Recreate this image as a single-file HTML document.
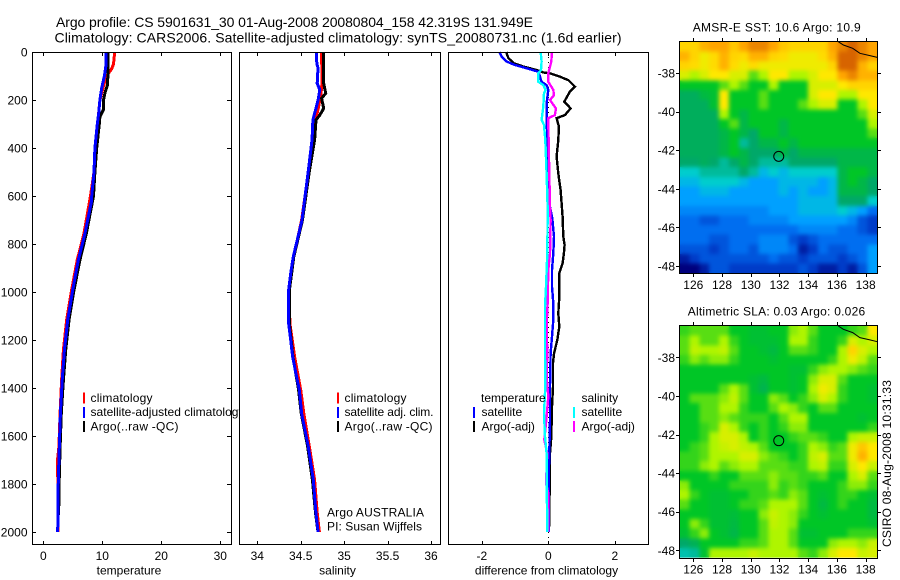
<!DOCTYPE html>
<html>
<head>
<meta charset="utf-8">
<title>Argo profile</title>
<style>
html,body{margin:0;padding:0;background:#fff;}
svg{display:block;}
text{font-family:"Liberation Sans",sans-serif;font-size:12px;fill:#000;}
.t14{font-size:14px;}
.t13{font-size:13px;}
</style>
</head>
<body>
<svg id="chart" width="900" height="580" viewBox="0 0 900 580" xmlns="http://www.w3.org/2000/svg">
<defs>
<filter id="soften" filterUnits="userSpaceOnUse" x="660" y="30" width="230" height="540" color-interpolation-filters="sRGB">
<feGaussianBlur in="SourceGraphic" stdDeviation="2" result="blur"/>
<feMerge><feMergeNode in="SourceGraphic"/><feMergeNode in="blur"/></feMerge>
</filter>
</defs>
<rect x="0" y="0" width="900" height="580" fill="#fff"/>
<text class="t14" x="56" y="27" textLength="477" lengthAdjust="spacing">Argo profile: CS 5901631_30 01-Aug-2008 20080804_158 42.319S 131.949E</text>
<text class="t14" x="54.5" y="42.5" textLength="567" lengthAdjust="spacing">Climatology: CARS2006. Satellite-adjusted climatology: synTS_20080731.nc (1.6d earlier)</text>
<g id="p1"></g>
<g id="p2"></g>
<g id="p3"></g>
<g id="m1"></g>
<g id="m2"></g>
<text x="0" y="0" transform="translate(891 547) rotate(-90)" textLength="167" lengthAdjust="spacing">CSIRO 08-Aug-2008 10:31:33</text>
</svg>
<script>
// ---- Profile data: depth (dbar) and value pairs ----
const depthTicks = [0,200,400,600,800,1000,1200,1400,1600,1800,2000];
const tempTicks = [0,10,20,30];
const salTicks = [34,34.5,35,35.5,36];
const salTickLabels = ['34','34.5','35','35.5','36'];
const diffTicks = [-2,0,2];

const tempClimDepth = [0,50,70,90,110,150,200,300,400,500,600,755,867,992,1117,1242,1367,1505,1645,1700,1783,2000];
const tempClimValue = [12.1,11.9,11.6,11.0,10.6,10.1,9.6,9.2,8.9,8.6,8.0,6.9,5.75,4.8,3.95,3.4,3.1,2.85,2.65,2.4,2.45,2.45];
const tempSatDepth = [0,60,100,150,200,250,300,400,500,600,617,755,867,992,1117,1242,1367,1505,1645,1783,2000];
const tempSatValue = [10.6,10.6,10.35,9.9,9.6,9.4,9.15,8.75,8.6,8.2,8.2,7.07,5.93,4.98,4.13,3.57,3.2,2.9,2.72,2.55,2.44];
const tempArgoDepth = [0,100,140,170,200,240,270,300,400,500,600,755,867,992,1117,1242,1367,1505,1645,1783,1930];
const tempArgoValue = [10.95,10.95,10.85,10.45,10.2,10.2,9.6,9.5,9.05,8.75,8.5,7.3,6.2,5.2,4.35,3.8,3.4,3.05,2.85,2.7,2.6];

const salClimDepth = [0,130,172,228,276,367,506,700,853,992,1131,1269,1408,1505,1645,1783,1920,2000];
const salClimValue = [34.74,34.745,34.733,34.706,34.676,34.653,34.587,34.51,34.42,34.365,34.375,34.43,34.5,34.535,34.6,34.66,34.69,34.715];
const salSatDepth = [0,47,68,89,131,158,200,242,283,367,506,700,853,922,992,1061,1131,1200,1269,1339,1408,1505,1645,1783,1920,2000];
const salSatValue = [34.68,34.685,34.7,34.695,34.69,34.72,34.7,34.67,34.64,34.63,34.584,34.515,34.415,34.385,34.36,34.357,34.36,34.385,34.407,34.445,34.484,34.51,34.587,34.645,34.675,34.7];
const salArgoDepth = [0,131,172,193,235,263,283,367,506,700,853,992,1131,1269,1408,1505,1645,1783,1920,1990];
const salArgoValue = [34.765,34.765,34.788,34.74,34.765,34.72,34.676,34.66,34.595,34.52,34.42,34.37,34.37,34.41,34.475,34.505,34.58,34.635,34.67,34.695];

const diffTempSatDepth = [0,19,40,54,68,82,103,124,138,158,214,269,367,506,644,693,769,839,908,978,1047,1117,1186,1256,1394,1533,1672,1811,1950,2000];
const diffTempSatValue = [-1.47,-1.4,-1.25,-1.0,-0.65,-0.3,-0.25,-0.2,-0.05,0,-0.05,-0.05,-0.03,-0.02,0.05,0.12,0.17,0.15,0.11,0.11,0.15,0.15,0.11,0.07,0.05,0.05,0.03,0.01,0.02,0.01];
const diffTempArgoDepth = [0,26,47,61,75,85,89,103,117,144,165,207,235,263,276,311,367,436,506,575,686,769,804,839,880,922,1019,1089,1144,1200,1256,1297,1394,1478,1603,1672,1950,1977];
const diffTempArgoValue = [-1.27,-1.2,-1.03,-0.75,-0.35,-0.15,0.05,0.35,0.6,0.8,0.65,0.48,0.67,0.5,0.25,0.32,0.3,0.25,0.3,0.37,0.43,0.45,0.49,0.47,0.43,0.33,0.33,0.3,0.33,0.27,0.17,0.14,0.14,0.11,0.09,0.05,0.03,0.03];
const diffSalSatDepth = [0,40,75,89,124,138,158,172,228,283,304,367,506,644,700,839,978,1061,1256,1394,1505,1603,1672,1811,1950,2000];
const diffSalSatValue = [-0.23,-0.2,-0.22,-0.3,-0.3,-0.15,-0.08,-0.13,-0.15,-0.2,-0.13,-0.09,-0.05,-0.02,-0.02,-0.03,-0.07,-0.1,-0.1,-0.09,-0.13,-0.1,-0.05,-0.05,-0.03,-0.03];
const diffSalArgoDepth = [0,40,89,124,158,180,200,235,263,276,367,506,644,700,839,908,1047,1144,1256,1353,1436,1547,1616,1672,1797,1838,1977,2000];
const diffSalArgoValue = [0.11,0.09,0,0,0.15,0.17,0.05,0.23,0.2,0,0.01,0.03,0.05,0.07,0.05,0,-0.02,-0.05,-0.03,-0.05,0,-0.07,-0.12,-0.03,-0.07,0,0,0];

// ---- Map data: colour-level grid values (20 columns x 24 rows, north to south) ----
const mapLonTicks = [126,128,130,132,134,136,138];
const mapLatTicks = [-38,-40,-42,-44,-46,-48];
const coastLon = [136.1,136.45,137.1,137.6,138.3,138.81];
const coastLat = [-36.38,-36.55,-36.72,-36.98,-37.1,-37.19];
const argoLon = [131.95];
const argoLat = [-42.32];

const sstRows = [
[8.3,8.3,8.8,9,9,8.5,9,9.5,9.5,9,8.5,8.3,8.3,8.3,8.3,9,9.5,10,9.5,9],
[8.8,8.3,7.8,8.2,8.8,8.3,8.2,8.8,8.8,8.3,8.2,7.8,7.8,7.8,8.2,8.8,10,10,9.5,9],
[8.3,8.2,7.8,8.2,8.8,8.2,7.8,8.2,7.8,7.8,7.8,7.8,7.8,7.8,7.8,8.3,10,10,8.8,8.3],
[7.5,7,7.5,8,8,7.5,7.5,6.5,7,8,8,7,7,7.5,8,8,9,9.5,8.8,8.8],
[6,6,6,6,6.5,7,6.5,6,6,7,6,6,6,7.5,7.5,7.5,8,8.3,8.3,8.3],
[5.2,5.2,5.6,5.8,8,6,6,6,6.5,6,6,6,6,7.5,8,8,7,7,8,8],
[5.2,5.2,5.2,5.8,8,6,6,6,6.5,6,6,6,6.5,7,7.5,7.5,6,6,7,8],
[5.2,5.2,5.2,5.2,7,6,5.5,6,6,6,6,6,6,6,6,6,6,6,6.5,7.5],
[5.2,5.2,5.2,5.2,6,6.5,5.5,6,6,6,5.5,6,6,6,6,6,6,6,6,7],
[5.2,5.2,5.2,5.2,5.5,6,5.5,5,6,6,5.5,6,6,6,6,6,6,6,6,6.5],
[5.2,5.2,5.2,5.2,5.5,6,4.5,5,5.5,5.5,6,5.5,6,6,6,6,6,6,6,6],
[5.2,5.2,5.2,5.2,5.5,6,5.5,5,5,5,5.5,5,5.5,5.5,5.5,5.5,5.5,5.5,5.5,5.5],
[5,5,5.2,5,4.5,5,5.5,5,4.5,4.5,4.5,5,5,5,5,5,5.5,5.5,5.5,5.5],
[4,4,4.5,4.5,4.5,4.5,5,4.5,3.5,4,3.5,4,4,4,4,4,5.5,6,6,5.5],
[3.5,3.5,4,4,4,4,3.5,3,3,3,3.5,3.5,3.5,3.5,3,3.5,5.5,6,5.5,5],
[3,3,3.5,3.5,3.5,3,3,3,3,3,3.5,3,3.5,3,3,3.5,5.5,5.5,5.5,5],
[3,3,3,3,3,3,3,3,3,3,3,3,3.5,3.5,3.5,3.5,5,5,5,4],
[2.5,2.5,2.5,2.5,2.5,2.5,2.5,2.5,2.5,3,3,3,3.5,3.5,3.5,3.5,4,3.5,3,2],
[2,2,1.5,1.5,2,2,2,2.5,2.5,2.5,2.5,3,3,3,3,3,3,2.5,1.5,1],
[2,2,2,2,2,2,2,2,2,2,2,2,2.5,2.5,2.5,2.5,2,2,1.5,1],
[2,2,2,1.5,1.5,2,2,2,2.5,2.5,2.5,1.5,1,1.5,2,2,2,2,2,2],
[1.5,1.5,1.5,1,1.5,2,2,1.5,2.5,2.5,2.5,2,0.5,1,2,1.5,1.5,2,2,3],
[0.5,1,1.5,1.5,1.5,1.5,1.5,1.5,1.5,2,1.5,1.5,1,1.5,1.5,1.5,1,1.5,2,3],
[0,0,0.5,1.5,1.5,1,1,1,1,1,1,1,1.5,1,0.5,0.5,1,0.5,1.5,3]
];
const slaRows = [
[6.3,6.5,6.5,6.5,6.5,6,6,5.8,5.8,6,6,6.8,7,6.5,6,6,6,6.3,6.5,8],
[6.5,7,6.5,6.5,7,6.3,6,5.8,5.8,5.8,6,7,7,6.3,6,6,6.3,7.5,7,7.5],
[6.5,7.2,7,7,7.2,6.5,6,6,5.8,5.6,6,6.5,6.5,6.3,6,6,7,8.3,7.5,7],
[6.3,6.8,6.5,6.8,6.8,6.3,6,6,6,5.8,6,6,6,6,6,6.3,7,7.8,7.2,6.5],
[6,6,6,6,6,6,6,6,6,6,6,5.8,5.8,6.3,6.8,7,7,6.8,6.5,6.3],
[6,6,6,6,6,6,6,5.8,5.6,6,6,5.8,6,6.8,7.5,7.5,6.5,6,6,6],
[6,6,6,6,6.5,7,6.5,5.8,5.4,6,6,5.8,6,7,7.8,7.5,6.3,6,6,5.8],
[6,6.5,6.5,6.5,6.8,7.2,6.5,6,6,6.8,6.5,6,6.3,6.8,7.5,7,6.3,6,6,5.8],
[6,6,6.5,6.5,7,7,6.3,6,6,6.5,7,6.8,6.3,6,6.5,6.5,6,6,6,6],
[6,6,6.5,6.5,6.8,6.5,6.3,6.3,6.3,6,6.5,7,7,6,6,6,6,6,5.8,6],
[6,6,6.3,6.5,7.5,7,6.3,6,6.3,6,6.3,6.8,6.8,6,6,6,6,6,6,6.3],
[6,6,6.3,7,7.5,7.5,7,6,6.3,6,6,6.3,6.5,6.5,6.3,6,6,7,7.3,7.3],
[6,6.3,6.5,7,7.3,7.5,7.2,7,6.5,6,6,6,6.3,7,6.8,6.3,6.5,7.8,8.5,8],
[6.3,6.3,6.5,7,7,7,7.5,7.5,6.8,6.5,6.3,6,6.3,7.2,7.5,6.5,6.5,7.8,8.8,8],
[6.3,6.3,6.8,7,6.5,6.8,7,7,6.5,6.5,6.5,6.3,6.3,7,7.2,6.3,6.3,7.5,8,7.3],
[6,6,6,6.3,6,6,6.5,6.5,6.5,6.8,6.5,6.5,6.3,6.3,6.5,6,6,7,7.5,6.5],
[6.8,6,6,6,6,6.3,6.3,6.3,6.3,6.8,6.3,6.5,6.3,6,6,6,6.3,6.8,6.8,6.3],
[7,6.3,6,5.8,5.8,6,6,6.3,6.3,6.5,6.3,6.8,6.5,6,5.8,6,6.3,6.3,6,5.8],
[6.5,6,6,5.8,5.8,6,6.3,6.3,6.5,7,7,7,6.5,6,5.6,6,6.3,6,6,5.6],
[6,6,6,5.8,5.8,5.7,6,6,6.8,7.3,7,6.8,6.3,6,5.8,6,6,6,6,5.6],
[6,6.8,6.3,5.8,5.8,5.6,6,6,6.5,7.2,7,6.8,6,6,6,6,6,6,6,5.8],
[5.8,6.3,6.8,6,5.8,5.5,6,6,6.5,7,7,6.5,5.8,5.8,6,6,6,6.3,6.3,6.3],
[5,5.3,6,6,6,6,6.3,6.3,6.5,7,7,6.5,6,6,6,6.8,7,7,6.8,7.3],
[4.3,4.5,5.8,7,7,7,7,7.3,7,7,7,7,6.5,6.3,6.8,7.5,8,8,7.3,7.5]
];

// ---- Axis functions ----
const SVGNS = 'http://www.w3.org/2000/svg';
function depthY(d){ return 52 + d * 0.24; }
function tempX(v){ return 43.3 + v * 5.9; }
function salX(v){ return 257.3 + (v - 34) * 86.85; }
function diffX(v){ return 548.3 + v * 33.25; }
function lonX(lon){ return 693.3 + (lon - 126) * 14.36; }
function latY(lat, y38){ return y38 + (-38 - lat) * 19.3; }
const LON_MIN = 125.04, LON_MAX = 138.81, LAT_MAX = -36.38, LAT_MIN = -48.38;

function mk(parent, tag, attrs, txt){
  const el = document.createElementNS(SVGNS, tag);
  for (const k in attrs) el.setAttribute(k, attrs[k]);
  if (txt !== undefined) el.textContent = txt;
  parent.appendChild(el);
  return el;
}
function series(parent, depths, values, xFn, color, width){
  const pts = depths.map((d, i) => xFn(values[i]).toFixed(1) + ',' + depthY(d).toFixed(1)).join(' ');
  return mk(parent, 'polyline', {points: pts, fill: 'none', stroke: color, 'stroke-width': width, 'stroke-linejoin': 'miter', 'shape-rendering': 'crispEdges'});
}
function legendBar(parent, x, y, color){
  return mk(parent, 'rect', {x: x, y: y, width: 2, height: 11, fill: color});
}
function frame(parent, x0, x1, y0, y1){
  return mk(parent, 'rect', {x: x0 + 0.5, y: y0 + 0.5, width: x1 - x0 - 1, height: y1 - y0 - 1, fill: 'none', stroke: '#000', 'stroke-width': 1, 'shape-rendering': 'crispEdges'});
}
function tickLine(parent, x1, y1, x2, y2){
  return mk(parent, 'line', {x1: x1, y1: y1, x2: x2, y2: y2, stroke: '#000', 'stroke-width': 1, 'shape-rendering': 'crispEdges'});
}

const P_TOP = 52, P_BOT = 545;

// ---- Panel 1: temperature ----
(function(){
  const g = document.getElementById('p1');
  let el;
  el = mk(g, 'rect', {x: 32, y: P_TOP, width: 200, height: P_BOT - P_TOP, fill: '#fff'});
  
  
  el = series(g, tempClimDepth, tempClimValue, tempX, '#ff0000', 3);
  
  
  el = series(g, tempArgoDepth, tempArgoValue, tempX, '#000000', 3);
  
  
  el = series(g, tempSatDepth, tempSatValue, tempX, '#0000ff', 3);
  
  
  depthTicks.forEach(function(d){
    const y = Math.round(depthY(d)) + 0.5;
    let t = tickLine(g, 32, y, 36, y);
    
    
    t = tickLine(g, 227, y, 231, y);
    
    
    t = mk(g, 'text', {x: 27.5, y: depthY(d) + 4.5, 'text-anchor': 'end'}, String(d));
    
    
  });
  tempTicks.forEach(function(v){
    const x = Math.round(tempX(v)) + 0.5;
    let t = tickLine(g, x, P_TOP, x, P_TOP + 4);
    
    
    t = tickLine(g, x, P_BOT - 4, x, P_BOT);
    
    
    t = mk(g, 'text', {x: tempX(v), y: 560, 'text-anchor': 'middle'}, String(v));
    
    
  });
  el = frame(g, 32, 232, P_TOP, P_BOT);
  
  
  el = mk(g, 'text', {x: 129, y: 574.5, 'text-anchor': 'middle'}, 'temperature');
  
  
  el = legendBar(g, 83, 392.5, '#ff0000');
  
  
  el = legendBar(g, 83, 407, '#0000ff');
  
  
  el = legendBar(g, 83, 421, '#000000');
  
  
  el = mk(g, 'text', {x: 90.5, y: 402, textLength: 62, lengthAdjust: 'spacing'}, 'climatology');
  
  
  el = mk(g, 'text', {x: 90.5, y: 416, textLength: 154, lengthAdjust: 'spacing'}, 'satellite-adjusted climatology');
  
  
  el = mk(g, 'text', {x: 90.5, y: 430.5, textLength: 88, lengthAdjust: 'spacing'}, 'Argo(..raw -QC)');
  
  
})();

// ---- Panel 2: salinity ----
(function(){
  const g = document.getElementById('p2');
  let el;
  el = mk(g, 'rect', {x: 239, y: P_TOP, width: 202, height: P_BOT - P_TOP, fill: '#fff'});
  
  
  el = series(g, salClimDepth, salClimValue, salX, '#ff0000', 3);
  
  
  el = series(g, salArgoDepth, salArgoValue, salX, '#000000', 3);
  
  
  el = series(g, salSatDepth, salSatValue, salX, '#0000ff', 3);
  
  
  salTicks.forEach(function(v, i){
    const x = Math.round(salX(v)) + 0.5;
    let t = tickLine(g, x, P_TOP, x, P_TOP + 4);
    
    
    t = tickLine(g, x, P_BOT - 4, x, P_BOT);
    
    
    t = mk(g, 'text', {x: salX(v), y: 560, 'text-anchor': 'middle'}, salTickLabels[i]);
    
    
  });
  el = frame(g, 239, 441, P_TOP, P_BOT);
  
  
  el = mk(g, 'text', {x: 337.5, y: 574.5, 'text-anchor': 'middle'}, 'salinity');
  
  
  el = legendBar(g, 337, 392.5, '#ff0000');
  
  
  el = legendBar(g, 337, 407, '#0000ff');
  
  
  el = legendBar(g, 337, 421, '#000000');
  
  
  el = mk(g, 'text', {x: 344.5, y: 402, textLength: 62, lengthAdjust: 'spacing'}, 'climatology');
  
  
  el = mk(g, 'text', {x: 344.5, y: 416, textLength: 89, lengthAdjust: 'spacing'}, 'satellite adj. clim.');
  
  
  el = mk(g, 'text', {x: 344.5, y: 430.5, textLength: 88, lengthAdjust: 'spacing'}, 'Argo(..raw -QC)');
  
  
  el = mk(g, 'text', {x: 327, y: 516.5, textLength: 97, lengthAdjust: 'spacing'}, 'Argo AUSTRALIA');
  
  
  el = mk(g, 'text', {x: 327, y: 530.5, textLength: 95, lengthAdjust: 'spacing'}, 'PI: Susan Wijffels');
  
  
})();

// ---- Panel 3: differences ----
(function(){
  const g = document.getElementById('p3');
  let el;
  el = mk(g, 'rect', {x: 448, y: P_TOP, width: 201, height: P_BOT - P_TOP, fill: '#fff'});
  
  
  const zx = Math.round(diffX(0)) + 0.5;
  el = mk(g, 'line', {x1: zx, y1: P_TOP, x2: zx, y2: P_BOT, stroke: '#000', 'stroke-width': 1, 'stroke-dasharray': '1 4', 'shape-rendering': 'crispEdges'});
  
  
  el = series(g, diffTempArgoDepth, diffTempArgoValue, diffX, '#000000', 2.4);
  
  
  el = series(g, diffTempSatDepth, diffTempSatValue, diffX, '#0000ff', 2.4);
  
  
  el = series(g, diffSalArgoDepth, diffSalArgoValue, diffX, '#ff00ff', 2.4);
  
  
  el = series(g, diffSalSatDepth, diffSalSatValue, diffX, '#00ffff', 2.4);
  
  
  diffTicks.forEach(function(v){
    const x = Math.round(diffX(v)) + 0.5;
    let t = tickLine(g, x, P_TOP, x, P_TOP + 4);
    
    
    t = tickLine(g, x, P_BOT - 4, x, P_BOT);
    
    
    t = mk(g, 'text', {x: diffX(v), y: 560, 'text-anchor': 'middle'}, String(v));
    
    
  });
  el = frame(g, 448, 649, P_TOP, P_BOT);
  
  
  el = mk(g, 'text', {x: 546.5, y: 574.5, 'text-anchor': 'middle'}, 'difference from climatology');
  
  
  el = legendBar(g, 473, 407, '#0000ff');
  
  
  el = legendBar(g, 473, 421, '#000000');
  
  
  el = legendBar(g, 573, 407, '#00ffff');
  
  
  el = legendBar(g, 573, 421, '#ff00ff');
  
  
  el = mk(g, 'text', {x: 481, y: 402}, 'temperature');
  
  
  el = mk(g, 'text', {x: 481.5, y: 416}, 'satellite');
  
  
  el = mk(g, 'text', {x: 481.5, y: 430.5}, 'Argo(-adj)');
  
  
  el = mk(g, 'text', {x: 581.5, y: 402}, 'salinity');
  
  
  el = mk(g, 'text', {x: 581.5, y: 416}, 'satellite');
  
  
  el = mk(g, 'text', {x: 581.5, y: 430.5}, 'Argo(-adj)');
  
  
})();

// ---- Maps ----
const colorStops = [
  [0,0,125],[0,60,200],[0,110,240],[0,160,255],[0,205,205],
  [0,168,105],[0,198,38],[175,245,0],[255,232,0],[255,165,0],[215,100,0]
];
function levelColor(v){
  const i = Math.max(0, Math.min(colorStops.length - 2, Math.floor(v)));
  const f = Math.max(0, Math.min(1, v - i));
  const a = colorStops[i], b = colorStops[i + 1];
  return 'rgb(' + Math.round(a[0] + (b[0] - a[0]) * f) + ',' + Math.round(a[1] + (b[1] - a[1]) * f) + ',' + Math.round(a[2] + (b[2] - a[2]) * f) + ')';
}
function drawMap(g, rows, y38, prefix, labelBaseline){
  const top = latY(LAT_MAX, y38), bot = latY(LAT_MIN, y38);
  const left = lonX(LON_MIN), right = lonX(LON_MAX);
  const nr = rows.length, nc = rows[0].length;
  const dLat = (LAT_MAX - LAT_MIN) / nr, dLon = (LON_MAX - LON_MIN) / nc;
  const clip = mk(g, 'clipPath', {id: prefix + '-clip'});
  
  
  mk(clip, 'rect', {x: left, y: top, width: right - left, height: bot - top});
  const clipGroup = mk(g, 'g', {'clip-path': 'url(#' + prefix + '-clip)'});
  
  
  const cells = mk(clipGroup, 'g', {filter: 'url(#soften)'});
  
  
  rows.forEach(function(row, r){
    row.forEach(function(v, c){
      const x0 = lonX(LON_MIN + c * dLon), x1 = lonX(LON_MIN + (c + 1) * dLon);
      const y0 = latY(LAT_MAX - r * dLat, y38), y1 = latY(LAT_MAX - (r + 1) * dLat, y38);
      const cell = mk(cells, 'rect', {x: x0.toFixed(2), y: y0.toFixed(2), width: (x1 - x0 + 0.4).toFixed(2), height: (y1 - y0 + 0.4).toFixed(2), fill: levelColor(v), 'shape-rendering': 'crispEdges'});
      
      
    });
  });
  const coastPts = coastLon.map(function(lon, i){ return lonX(lon).toFixed(1) + ',' + latY(coastLat[i], y38).toFixed(1); }).join(' ');
  const coast = mk(g, 'polyline', {points: coastPts, fill: 'none', stroke: '#000', 'stroke-width': 1});
  
  
  const marker = mk(g, 'circle', {cx: lonX(argoLon[0]), cy: latY(argoLat[0], y38), r: 5, fill: 'none', stroke: '#000', 'stroke-width': 1});
  
  
  const box = frame(g, Math.round(left) - 1, Math.round(right) + 1, Math.round(top) - 1, Math.round(bot) + 1);
  
  
  mapLonTicks.forEach(function(lon){
    const x = Math.round(lonX(lon)) + 0.5;
    let t = tickLine(g, x, Math.round(top) - 4, x, Math.round(top) - 1);
    
    
    t = tickLine(g, x, Math.round(bot) + 1, x, Math.round(bot) + 4);
    
    
    t = mk(g, 'text', {x: lonX(lon), y: labelBaseline, 'text-anchor': 'middle'}, String(lon));
    
    
  });
  mapLatTicks.forEach(function(lat){
    const y = Math.round(latY(lat, y38)) + 0.5;
    let t = tickLine(g, Math.round(left) - 4, y, Math.round(left) - 1, y);
    
    
    t = tickLine(g, Math.round(right) + 1, y, Math.round(right) + 4, y);
    
    
    t = mk(g, 'text', {x: 675, y: latY(lat, y38) + 4.5, 'text-anchor': 'end'}, String(lat));
    
    
  });
}
(function(){
  const g1 = document.getElementById('m1');
  drawMap(g1, sstRows, 73, 'sst', 289);
  const t1 = mk(g1, 'text', {x: 692.7, y: 31.5, textLength: 168, lengthAdjust: 'spacing'}, 'AMSR-E SST: 10.6 Argo: 10.9');
  
  
  const g2 = document.getElementById('m2');
  drawMap(g2, slaRows, 357.3, 'sla', 573.5);
  const t2 = mk(g2, 'text', {x: 687.7, y: 315.5, textLength: 177.5, lengthAdjust: 'spacing'}, 'Altimetric SLA: 0.03 Argo: 0.026');
  
  
})();
</script>
</body>
</html>
